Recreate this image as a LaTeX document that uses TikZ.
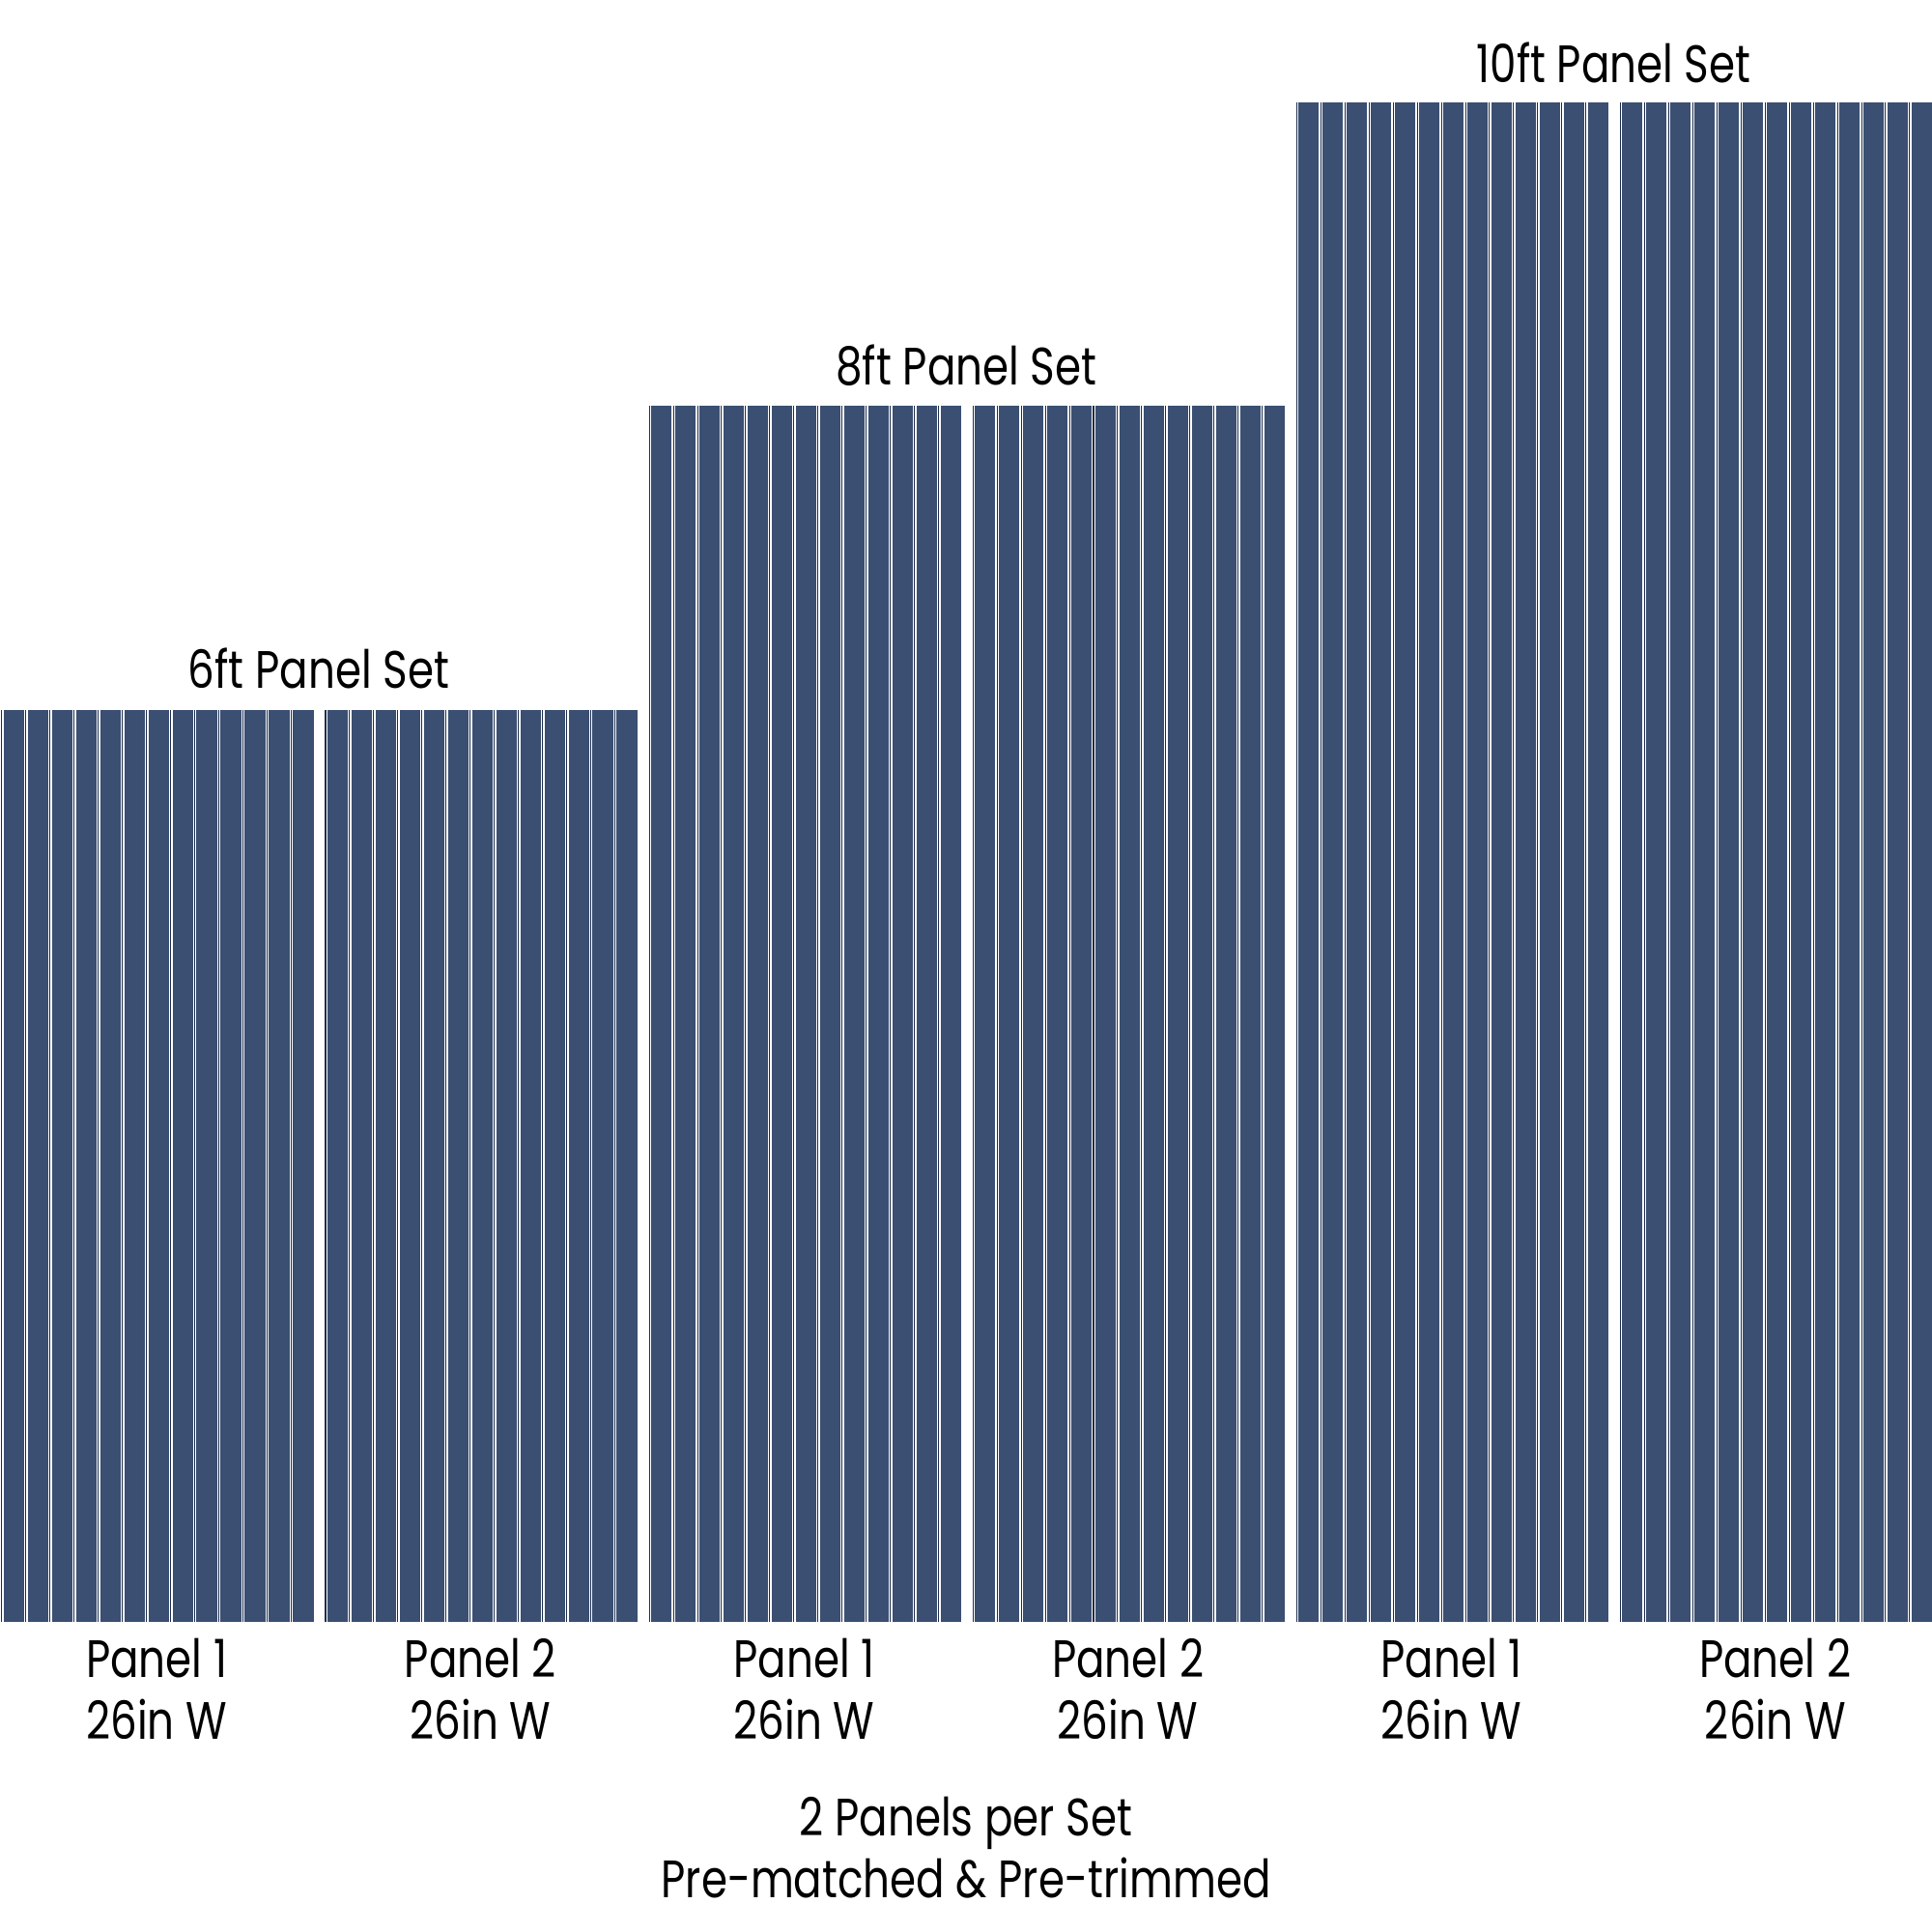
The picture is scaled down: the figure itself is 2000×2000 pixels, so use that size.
\documentclass[tikz,border=0pt]{standalone}
\usepackage{fontspec}
\setmainfont{Poppins}[FakeStretch = 0.8]
\usetikzlibrary{positioning}
\definecolor{panelblue}{RGB}{58,79,114}
\definecolor{groovedark}{RGB}{30,45,76}
\tikzset{panel/.style = {fill = panelblue, draw = none}}
\tikzset{groovelight/.style = {draw = white, line width = 0.4pt}}
\tikzset{grooveshade/.style = {draw = groovedark, line width = 0.3pt}}
\tikzset{label/.style = {font = \fontsize{15.5}{18.2}\selectfont, align = center, anchor = base, inner sep = 0pt}}

\begin{document}
\begin{tikzpicture}[x = 0.01cm, y = 0.01cm]
	\useasboundingbox (0, 0) rectangle (2000, 2000);

	% panels, 13 boards each
	\foreach \i/\h/\n in {0/1265/1, 1/1265/2, 2/1580/1, 3/1580/2, 4/1894/1, 5/1894/2} {
		\pgfmathsetmacro{\xl}{\i*335.1}
		\fill[panel] (\xl, 321) rectangle ++(324.5, \h-321);
		\foreach \k in {0, ..., 12} {
			\pgfmathsetmacro{\gx}{\xl+\k*24.96}
			\draw[groovelight] (\gx+0.7, 321) -- (\gx+0.7, \h);
			\draw[grooveshade] (\gx+1.9, 321) -- (\gx+1.9, \h);
			\draw[groovelight] (\gx+3.1, 321) -- (\gx+3.1, \h);
		}
		% base anchor sits on the last line
		\node[label] (p\i) at (\xl+162.25, 199) {Panel \n\\26in W};
	}

	\node[label] (t6) at (330, 1287) {6ft Panel Set};
	\node[label] (t8) at (1000.4, 1601) {8ft Panel Set};
	\node[label] (t10) at (1670.6, 1914) {10ft Panel Set};

	\node[label] (note) at (1000, 35) {2 Panels per Set\\Pre-matched \& Pre-trimmed};
\end{tikzpicture}
\end{document}
